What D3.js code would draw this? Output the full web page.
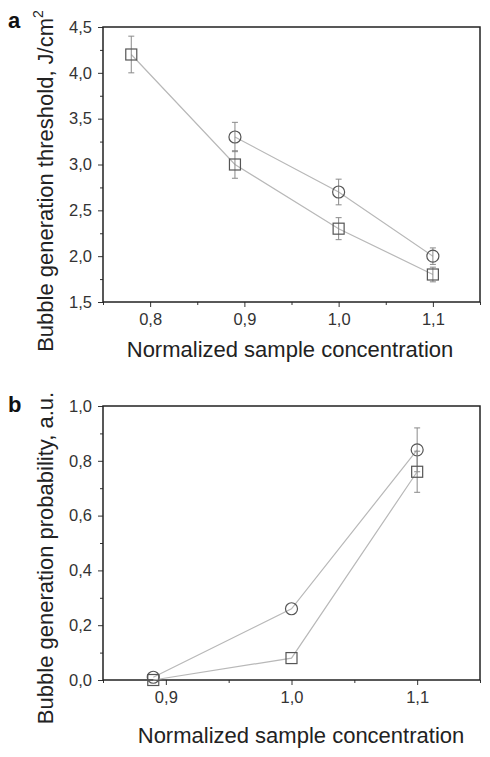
<!DOCTYPE html>
<html><head><meta charset="utf-8">
<script src="https://cdn.jsdelivr.net/npm/d3@7"></script>
<style>body{margin:0;background:#fff}svg{display:block}</style>
</head><body>
<svg id="c" width="490" height="757"></svg>
<script>
// Panel a data
const aX = [0.78, 0.89, 1.0, 1.1];
const aSquare = [4.2, 3.0, 2.3, 1.8];
const aSquareErr = [0.2, 0.15, 0.12, 0.08];
const aCircleX = [0.89, 1.0, 1.1];
const aCircle = [3.3, 2.7, 2.0];
const aCircleErr = [0.16, 0.14, 0.09];
const aXTicks = [0.8, 0.9, 1.0, 1.1];
const aYTicks = [1.5, 2.0, 2.5, 3.0, 3.5, 4.0, 4.5];
// Panel b data
const bX = [0.89, 1.0, 1.1];
const bSquare = [0.0, 0.08, 0.76];
const bSquareErr = [0, 0, 0.075];
const bCircle = [0.01, 0.26, 0.84];
const bCircleErr = [0, 0, 0.08];
const bXTicks = [0.9, 1.0, 1.1];
const bYTicks = [0.0, 0.2, 0.4, 0.6, 0.8, 1.0];

const svg = d3.select("#c");
const font = "'Liberation Sans', Arial, sans-serif";
const fmt = d => d3.format(".1f")(d).replace(".", ",");

function panel(opt) {
  const g = svg.append("g");
  const x = d3.scaleLinear().domain(opt.xd).range([103, 480]);
  const y = d3.scaleLinear().domain(opt.yd).range([opt.bottom, opt.top]);
  const xMinor = d3.range(opt.xd[0], opt.xd[1] + 1e-9, 0.05).filter(v => !opt.xt.some(t => Math.abs(t - v) < 1e-6));
  const yStep = (opt.yt[1] - opt.yt[0]) / 2;
  const yMinor = d3.range(opt.yd[0], opt.yd[1] + 1e-9, yStep).filter(v => !opt.yt.some(t => Math.abs(t - v) < 1e-6));
  g.append("g").attr("transform", `translate(0,${opt.bottom})`)
    .call(d3.axisBottom(x).tickValues(opt.xt).tickFormat(fmt).tickSize(5).tickPadding(6))
    .call(a => a.select(".domain").remove());
  g.append("g").attr("transform", `translate(0,${opt.bottom})`)
    .call(d3.axisBottom(x).tickValues(xMinor).tickFormat("").tickSize(3))
    .call(a => a.select(".domain").remove());
  g.append("g").attr("transform", `translate(103,0)`)
    .call(d3.axisLeft(y).tickValues(opt.yt).tickFormat(fmt).tickSize(5).tickPadding(6))
    .call(a => a.select(".domain").remove());
  g.append("g").attr("transform", `translate(103,0)`)
    .call(d3.axisLeft(y).tickValues(yMinor).tickFormat("").tickSize(3))
    .call(a => a.select(".domain").remove());
  g.selectAll(".tick line").attr("stroke", "#333").attr("stroke-width", 1);
  g.selectAll(".tick text").attr("fill", "#333").style("font-family", font).style("font-size", "16.5px");
  g.append("rect").attr("x", 103).attr("y", opt.top).attr("width", 377).attr("height", opt.bottom - opt.top)
    .attr("fill", "none").attr("stroke", "#222").attr("stroke-width", 1.5);

  const line = d3.line().x(d => x(d[0])).y(d => y(d[1]));
  opt.series.forEach(s => {
    const pts = s.xs.map((xv, i) => [xv, s.ys[i], s.err[i]]);
    g.append("path").datum(pts).attr("d", line).attr("fill", "none").attr("stroke", "#b8b8b8").attr("stroke-width", 1.2);
    pts.forEach(p => {
      if (p[2] > 0) {
        const cx = x(p[0]);
        g.append("line").attr("x1", cx).attr("x2", cx).attr("y1", y(p[1] - p[2])).attr("y2", y(p[1] + p[2])).attr("stroke", "#8a8a8a");
        [p[1] - p[2], p[1] + p[2]].forEach(v => g.append("line").attr("x1", cx - 3).attr("x2", cx + 3).attr("y1", y(v)).attr("y2", y(v)).attr("stroke", "#8a8a8a"));
      }
    });
    pts.forEach(p => {
      if (s.shape === "square") {
        g.append("rect").attr("x", x(p[0]) - 5.5).attr("y", y(p[1]) - 5.5).attr("width", 11).attr("height", 11)
          .attr("fill", "none").attr("stroke", "#555").attr("stroke-width", 1.2);
      } else {
        g.append("circle").attr("cx", x(p[0])).attr("cy", y(p[1])).attr("r", 6)
          .attr("fill", "none").attr("stroke", "#555").attr("stroke-width", 1.2);
      }
    });
  });
  g.append("text").attr("x", 8).attr("y", opt.letterY).text(opt.letter)
    .style("font-family", font).style("font-weight", "bold").style("font-size", "22px").attr("fill", "#111");
  g.append("text").attr("x", opt.xlx).attr("y", opt.xly).attr("text-anchor", "middle").text("Normalized sample concentration")
    .style("font-family", font).style("font-size", "22px").attr("fill", "#222");
  const yl = g.append("text").attr("transform", `translate(53,${opt.ylc}) rotate(-90)`).attr("text-anchor", "middle")
    .style("font-family", font).style("font-size", "22px").attr("fill", "#222");
  yl.append("tspan").text(opt.ylabel);
  if (opt.sup) yl.append("tspan").attr("dy", -10).style("font-size", "14px").text(opt.sup);
}

panel({
  xd: [0.75, 1.15], yd: [1.5, 4.5], top: 27, bottom: 302, xt: aXTicks, yt: aYTicks,
  letter: "a", letterY: 28, xlx: 290, xly: 357, ylc: 181,
  ylabel: "Bubble generation threshold, J/cm", sup: "2",
  series: [
    {shape: "circle", xs: aCircleX, ys: aCircle, err: aCircleErr},
    {shape: "square", xs: aX, ys: aSquare, err: aSquareErr}
  ]
});
panel({
  xd: [0.85, 1.15], yd: [0, 1.0], top: 406, bottom: 680, xt: bXTicks, yt: bYTicks,
  letter: "b", letterY: 412, xlx: 301, xly: 743, ylc: 558,
  ylabel: "Bubble generation probability, a.u.", sup: null,
  series: [
    {shape: "circle", xs: bX, ys: bCircle, err: bCircleErr},
    {shape: "square", xs: bX, ys: bSquare, err: bSquareErr}
  ]
});
</script>
</body></html>
